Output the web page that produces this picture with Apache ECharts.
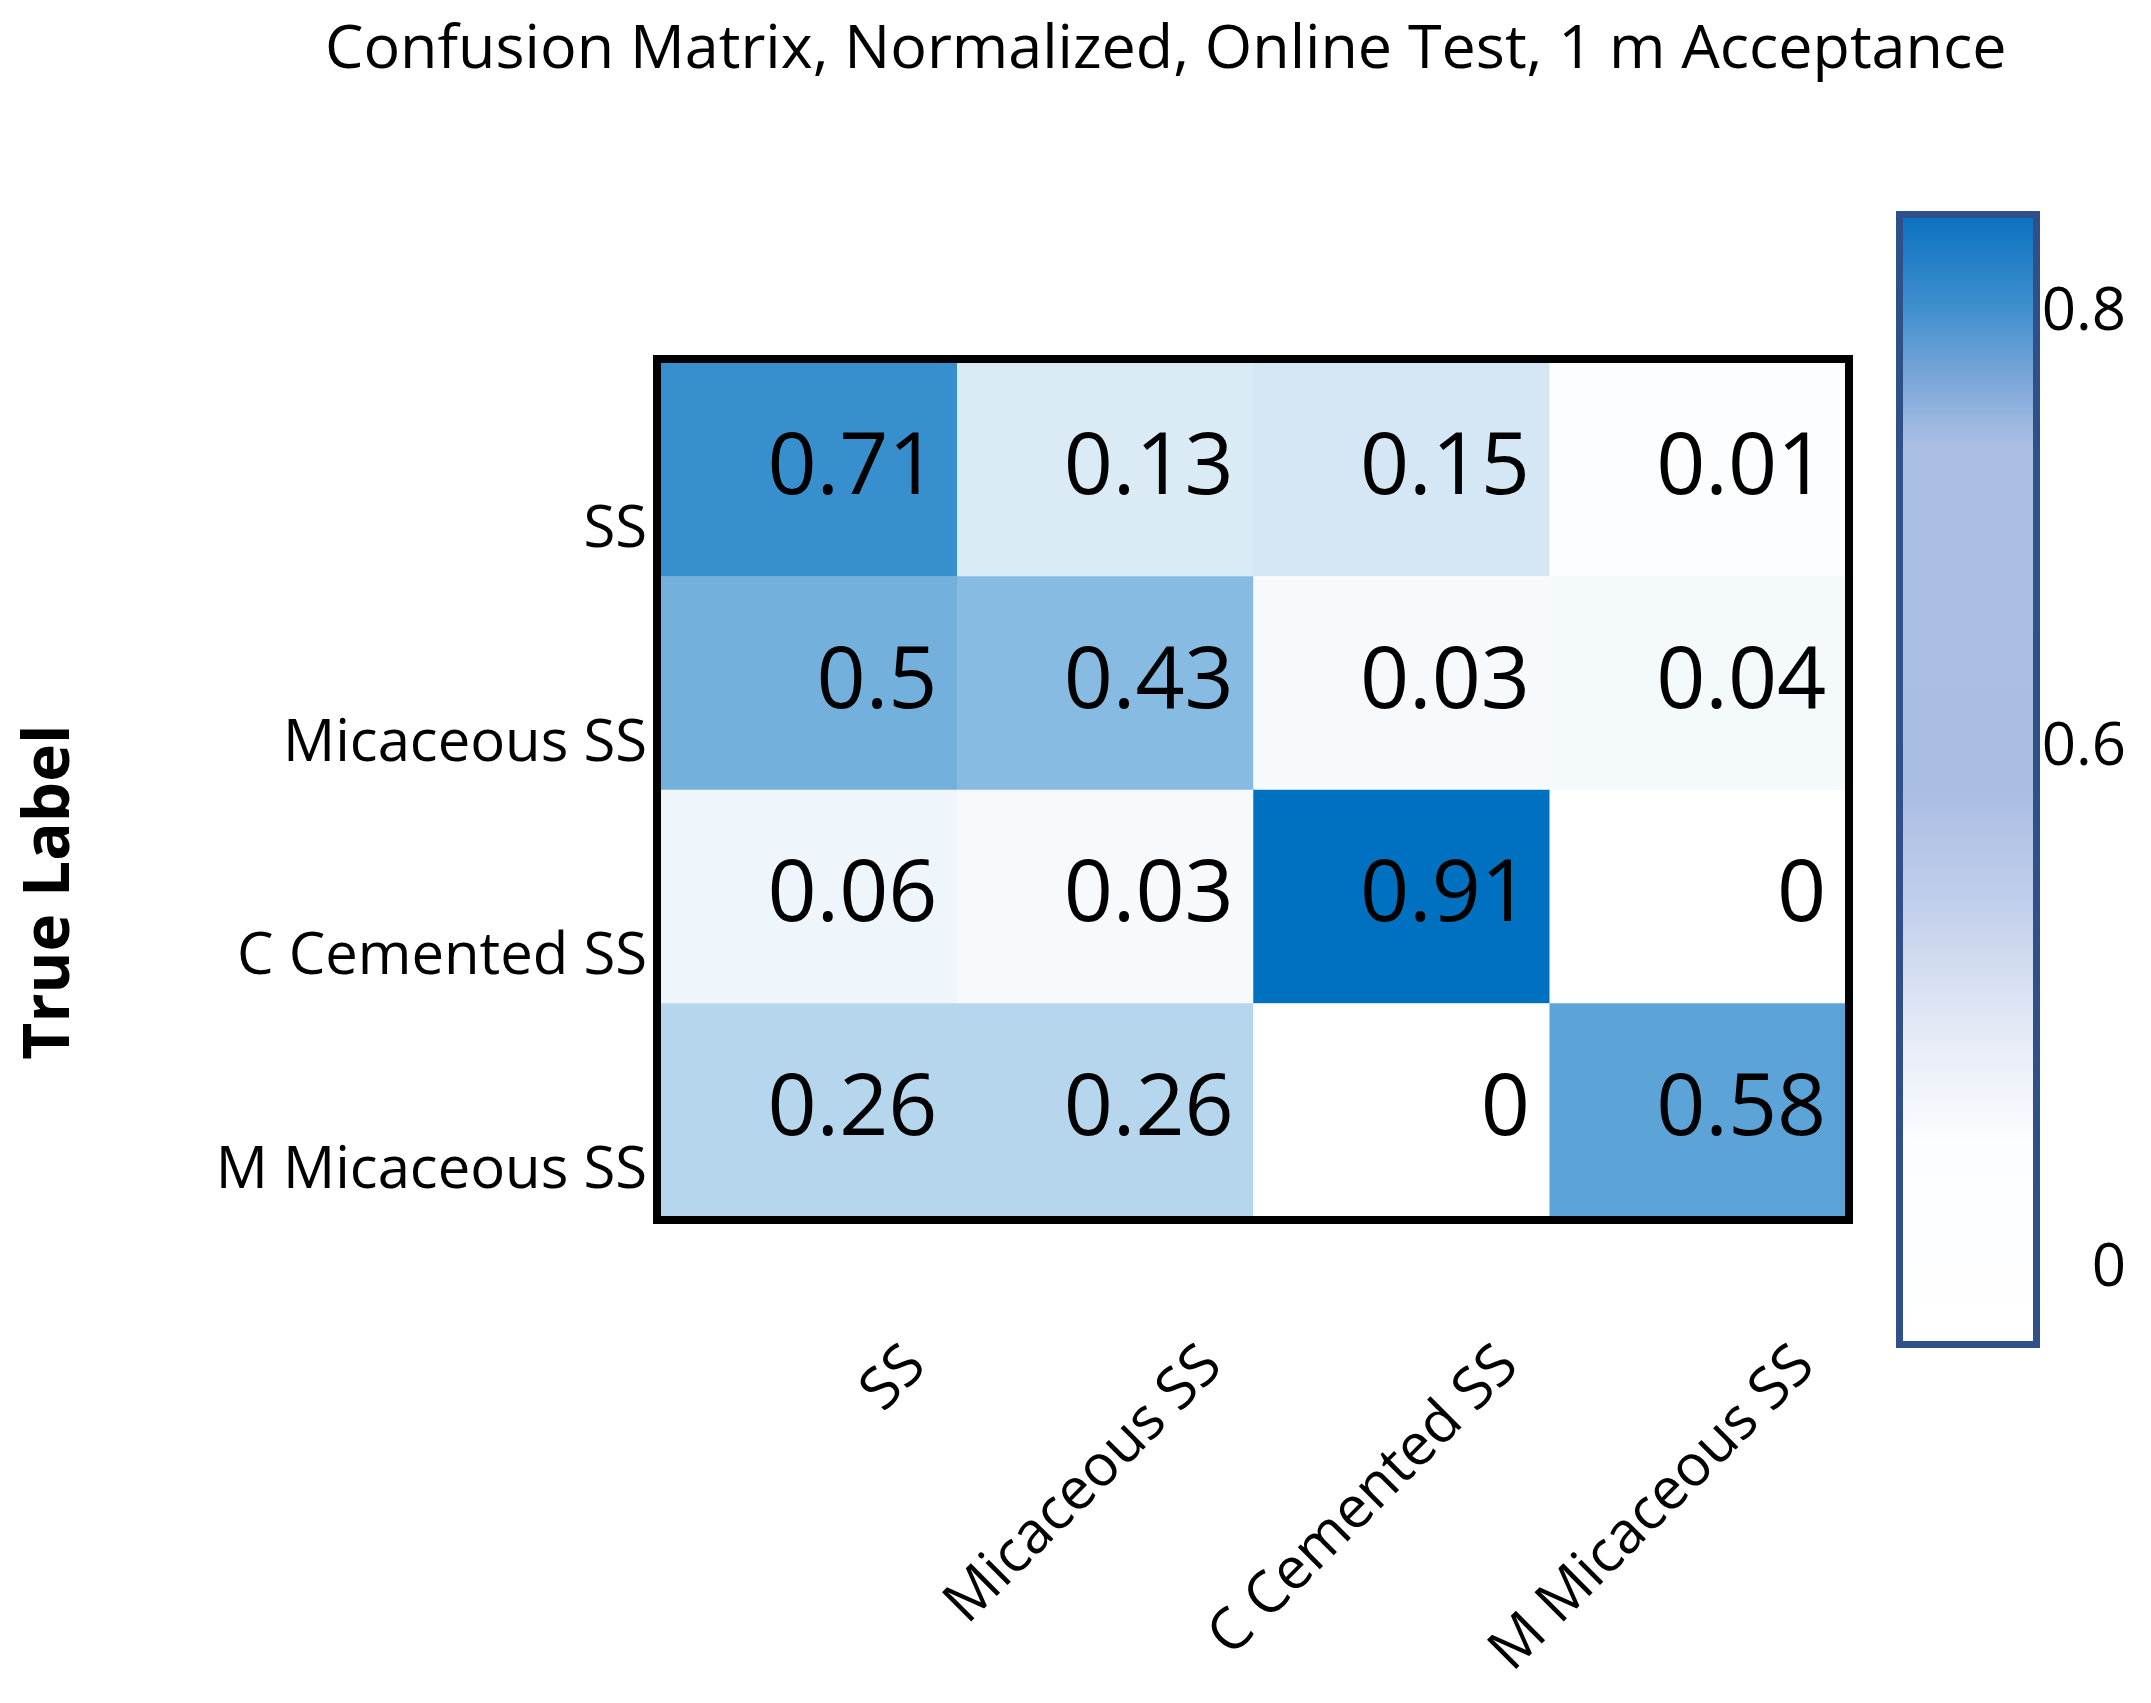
<!DOCTYPE html>
<html>
<head>
<meta charset="utf-8">
<script src="https://cdn.jsdelivr.net/npm/echarts@6/dist/echarts.min.js"></script>
<style>
html,body{margin:0;padding:0;background:#fff;}
#chart{width:2151px;height:1703px;}
</style>
</head>
<body>
<div id="chart"></div>
<script>
// ---- data ----
const titleText = 'Confusion Matrix, Normalized, Online Test, 1 m Acceptance';
const yAxisTitle = 'True Label';
const predictedLabels = ['SS', 'Micaceous SS', 'C Cemented SS', 'M Micaceous SS'];
const trueLabels = ['SS', 'Micaceous SS', 'C Cemented SS', 'M Micaceous SS'];
const rowSS = [0.71, 0.13, 0.15, 0.01];
const rowMicaceousSS = [0.5, 0.43, 0.03, 0.04];
const rowCCementedSS = [0.06, 0.03, 0.91, 0];
const rowMMicaceousSS = [0.26, 0.26, 0, 0.58];
// colorbar tick labels, bottom to top, on the (uneven) colorbar scale slots
const colorbarTicks = ['0', '', '', '', '', '', '0.6', '', '', '', '', '0.8'];

// ---- build ----
const rows = [rowSS, rowMicaceousSS, rowCCementedSS, rowMMicaceousSS];
const heatData = [];
rows.forEach((row, yi) => row.forEach((v, xi) => heatData.push([xi, yi, v])));
const maxVal = Math.max(...rows.flat());

const FONT = 'Open Sans';
const chart = echarts.init(document.getElementById('chart'));
chart.setOption({
  backgroundColor: '#ffffff',
  animation: false,
  title: {
    text: titleText,
    left: 325,
    top: 20,
    padding: 0,
    textStyle: { fontFamily: FONT, fontSize: 61, fontWeight: 'normal', color: '#000' }
  },
  grid: [
    { left: 661, top: 363, width: 1185, height: 854, outerBoundsMode: 'none', containLabel: false },
    { left: 1899.5, top: 214.5, width: 137, height: 1130, show: true, outerBoundsMode: 'none',
      borderColor: '#2f5089', borderWidth: 7,
      backgroundColor: new echarts.graphic.LinearGradient(0, 0, 0, 1, [
        { offset: 0, color: '#0870c0' },
        { offset: 0.087, color: '#4190cf' },
        { offset: 0.147, color: '#7aa6d8' },
        { offset: 0.207, color: '#abbfe4' },
        { offset: 0.51, color: '#aabde3' },
        { offset: 0.614, color: '#c3d0ec' },
        { offset: 0.716, color: '#e3e9f5' },
        { offset: 0.82, color: '#fcfdff' },
        { offset: 1, color: '#ffffff' }
      ]) },
    { left: 1896, top: 313, width: 144, height: 956, outerBoundsMode: 'none' }
  ],
  xAxis: [
    { type: 'category', gridIndex: 0, data: predictedLabels,
      axisLine: { show: false }, axisTick: { show: false }, splitLine: { show: false },
      axisLabel: { interval: 0, rotate: 45, fontFamily: FONT, fontSize: 58, color: '#000',
        margin: 32, verticalAlign: 'top', lineHeight: 304 } },
    { type: 'value', gridIndex: 1, show: false },
    { type: 'value', gridIndex: 2, show: false }
  ],
  yAxis: [
    { type: 'category', gridIndex: 0, data: trueLabels, inverse: true,
      axisLine: { show: false }, axisTick: { show: false }, splitLine: { show: false },
      axisLabel: { interval: 0, fontFamily: FONT, fontSize: 58, color: '#000',
        margin: 14, verticalAlign: 'top', lineHeight: 122 },
      name: yAxisTitle, nameLocation: 'middle', nameGap: 578,
      nameTextStyle: { fontFamily: FONT, fontSize: 64, fontWeight: 'bold', color: '#000',
        padding: [0, 204, 0, 0] } },
    { type: 'value', gridIndex: 1, show: false },
    { type: 'category', gridIndex: 2, data: colorbarTicks, boundaryGap: false, position: 'right',
      axisLine: { show: false }, axisTick: { show: false }, splitLine: { show: false },
      axisLabel: { interval: 0, align: 'right', margin: 86, fontFamily: FONT, fontSize: 60, color: '#000' } }
  ],
  visualMap: {
    type: 'continuous', show: false, seriesIndex: 0, dimension: 2,
    min: 0, max: maxVal, inRange: { color: ['#ffffff', '#0070c0'] }
  },
  series: [{
    type: 'heatmap',
    xAxisIndex: 0, yAxisIndex: 0,
    data: heatData,
    itemStyle: { borderWidth: 0 },
    label: {
      show: true, position: 'insideRight', distance: 20,
      fontFamily: FONT, fontSize: 86, color: '#000',
      formatter: p => String(p.value[2])
    },
    emphasis: { disabled: true }
  }],
  graphic: [{
    type: 'rect', z: 100,
    shape: { x: 657, y: 359, width: 1192, height: 861 },
    style: { fill: 'none', stroke: '#000', lineWidth: 8 }
  }]
});
</script>
</body>
</html>
